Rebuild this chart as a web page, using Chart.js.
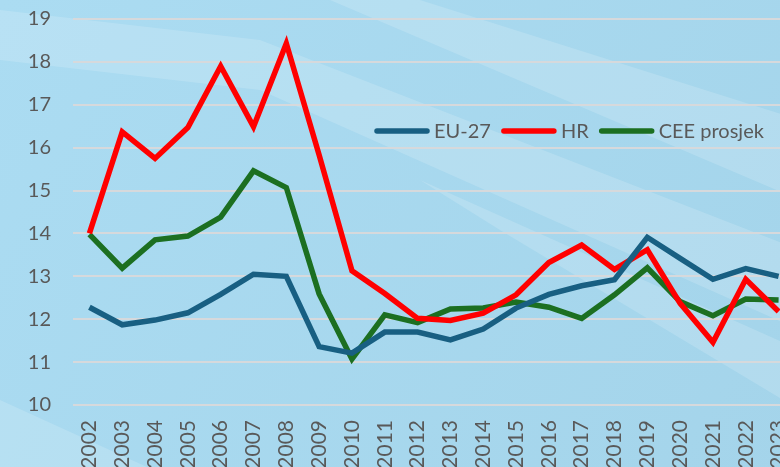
<!DOCTYPE html>
<html>
<head>
<meta charset="utf-8">
<script src="https://cdn.jsdelivr.net/npm/chart.js@4.4.1/dist/chart.umd.min.js"></script>
<style>
  html, body { margin: 0; padding: 0; overflow: hidden; background: #aadbf0; }
  #wrap { width: 800px; height: 482px; position: relative; }
</style>
</head>
<body>
<div id="wrap"><canvas id="myChart"></canvas></div>
<script>
// Data
var years = ["2002", "2003", "2004", "2005", "2006", "2007", "2008", "2009", "2010", "2011", "2012",
  "2013", "2014", "2015", "2016", "2017", "2018", "2019", "2020", "2021", "2022", "2023"];
var eu27 = [12.28, 11.87, 11.98, 12.15, 12.58, 13.05, 13.0, 11.36, 11.21, 11.7, 11.7,
  11.52, 11.77, 12.26, 12.58, 12.78, 12.92, 13.91, 13.42, 12.93, 13.18, 13.0];
var hr = [14.0, 16.37, 15.75, 16.47, 17.9, 16.49, 18.43, 15.83, 13.13, 12.6, 12.02,
  11.97, 12.14, 12.57, 13.32, 13.73, 13.16, 13.62, 12.37, 11.46, 12.93, 12.18];
var cee = [13.98, 13.19, 13.85, 13.94, 14.38, 15.46, 15.07, 12.59, 11.07, 12.1, 11.92,
  12.24, 12.26, 12.4, 12.28, 12.02, 12.57, 13.2, 12.41, 12.08, 12.47, 12.45];
var yMin = 10, yMax = 19;

var textColor = "#595959";
var fontFamily = "Lato, 'Open Sans', sans-serif";

// background with soft diagonal bands
var backgroundPlugin = {
  id: "bg",
  beforeDraw: function (chart) {
    var c = chart.ctx, w = chart.width, h = chart.height;
    c.save();
    var g = c.createLinearGradient(0, 0, w, h);
    g.addColorStop(0, "#abdcf2");
    g.addColorStop(1, "#a4d4ea");
    c.fillStyle = g;
    c.fillRect(0, 0, w, h);
    c.fillStyle = "rgba(255,255,255,0.16)";
    c.beginPath();
    c.moveTo(0, 10); c.lineTo(260, 40); c.lineTo(800, 250); c.lineTo(800, 330); c.lineTo(260, 90); c.lineTo(0, 60);
    c.closePath(); c.fill();
    c.beginPath();
    c.moveTo(330, 0); c.lineTo(420, 0); c.lineTo(800, 120); c.lineTo(800, 200); c.closePath(); c.fill();
    c.beginPath();
    c.moveTo(420, 180); c.lineTo(800, 350); c.lineTo(800, 410); c.lineTo(500, 230); c.closePath(); c.fill();
    c.beginPath();
    c.moveTo(0, 400); c.lineTo(180, 482); c.lineTo(0, 482); c.closePath(); c.fill();
    c.restore();
  }
};

// legend drawn inside the plot area
var legendPlugin = {
  id: "innerLegend",
  afterDatasetsDraw: function (chart) {
    var c = chart.ctx;
    var x = 374, y = 131;
    c.save();
    c.font = "20px " + fontFamily;
    c.textBaseline = "middle";
    c.textAlign = "left";
    chart.data.datasets.forEach(function (ds) {
      c.strokeStyle = ds.borderColor;
      c.lineWidth = 5.5;
      c.lineCap = "round";
      c.beginPath();
      c.moveTo(x + 3, y);
      c.lineTo(x + 53, y);
      c.stroke();
      x += 60;
      c.fillStyle = textColor;
      c.fillText(ds.label, x, y + 1);
      x += c.measureText(ds.label).width + 10;
    });
    c.restore();
  }
};

var ctx = document.getElementById("myChart");
new Chart(ctx, {
  type: "line",
  data: {
    labels: years,
    datasets: [
      { label: "EU-27", data: eu27, borderColor: "#185f82", borderWidth: 5.5, pointRadius: 0, tension: 0 },
      { label: "HR", data: hr, borderColor: "#ff0000", borderWidth: 5.5, pointRadius: 0, tension: 0 },
      { label: "CEE prosjek", data: cee, borderColor: "#1c6f21", borderWidth: 5.5, pointRadius: 0, tension: 0 }
    ]
  },
  options: {
    responsive: true,
    maintainAspectRatio: false,
    animation: false,
    layout: { padding: { top: 19, right: 5, left: 0, bottom: 0 } },
    plugins: {
      legend: { display: false },
      tooltip: { enabled: false }
    },
    scales: {
      x: {
        offset: true,
        grid: { display: false, drawTicks: false },
        border: { display: false },
        ticks: {
          color: textColor,
          font: { size: 21, family: fontFamily },
          maxRotation: 90,
          minRotation: 90,
          autoSkip: false,
          padding: 15
        },
        afterFit: function (scale) {
          scale.height = 77;
          scale.paddingTop = 0;
          scale.paddingLeft = 0;
          scale.paddingRight = 0;
        }
      },
      y: {
        min: yMin,
        max: yMax,
        grid: { color: "#d6d9dc", lineWidth: 2, drawTicks: false },
        border: { display: false },
        ticks: {
          stepSize: 1,
          color: textColor,
          font: { size: 20, family: fontFamily },
          padding: 22
        },
        afterFit: function (scale) {
          scale.width = 73;
          scale.paddingTop = 0;
          scale.paddingBottom = 0;
        }
      }
    }
  },
  plugins: [backgroundPlugin, legendPlugin]
});
</script>
</body>
</html>
